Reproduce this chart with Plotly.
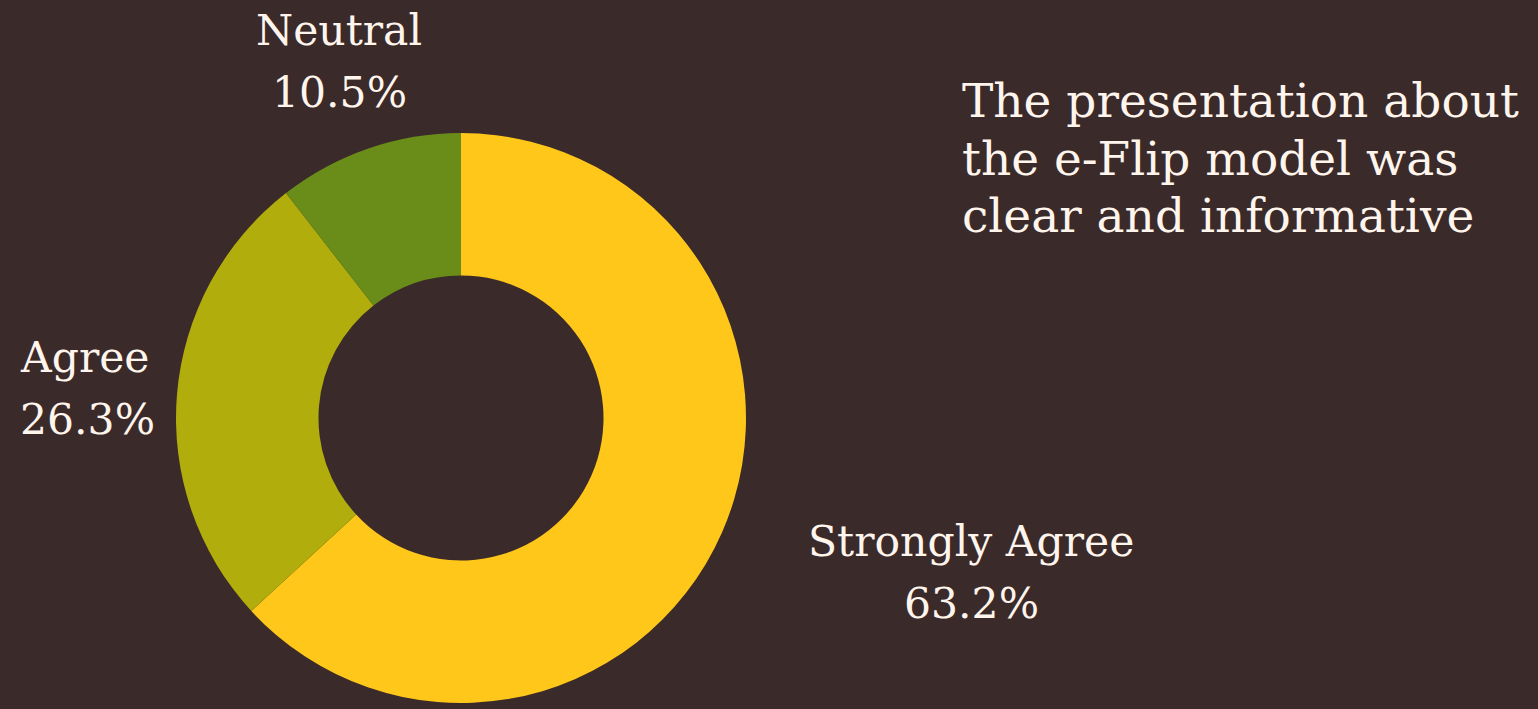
import plotly.graph_objects as go

categories = ["Strongly Agree", "Agree", "Neutral"]
values = [12, 5, 2]
colors = ["#FEC71A", "#B0AD0C", "#6A8D1A"]
title_lines = ["The presentation about", "the e-Flip model was", "clear and informative"]

W, H = 1538, 709
cx, cy, R = 461, 418, 285
BG = "#3A2A2A"
TXT = "#FFF5EC"
FONT = "DejaVu Serif"

fig = go.Figure(go.Pie(
    labels=categories, values=values, hole=0.5, sort=False,
    direction="clockwise", rotation=0,
    marker=dict(colors=colors, line=dict(width=0)),
    textinfo="none", hoverinfo="label+percent", showlegend=False,
    domain=dict(x=[(cx - R) / W, (cx + R) / W],
                y=[(H - cy - R) / H, (H - cy + R) / H]),
))

total = sum(values)
pct = [f"{v / total * 100:.1f}%" for v in values]

# label positions in pixels (x, y of top line center), anchors
label_pos = {
    "Strongly Agree": (971, 541, "center"),
    "Agree": (18, 357, "left"),
    "Neutral": (339, 30, "center"),
}
ann = []
for c, p in zip(categories, pct):
    x, y, anchor = label_pos[c]
    for i, t in enumerate([c, p]):
        ann.append(dict(
            text=t, x=x / W, y=1 - (y + i * 62) / H, xref="paper", yref="paper",
            xanchor=anchor, yanchor="middle", showarrow=False,
            font=dict(family=FONT, size=42.5, color=TXT),
        ))
for i, t in enumerate(title_lines):
    ann.append(dict(
        text=t, x=960 / W, y=1 - (100 + i * 58) / H, xref="paper", yref="paper",
        xanchor="left", yanchor="middle", showarrow=False,
        font=dict(family=FONT, size=47, color=TXT),
    ))

fig.update_layout(
    width=W, height=H, margin=dict(l=0, r=0, t=0, b=0),
    paper_bgcolor=BG, plot_bgcolor=BG, annotations=ann,
)
fig.write_html(
    "out.html",
    config={"displayModeBar": False},
    post_script="document.body.style.margin='0';document.body.style.overflow='hidden';",
)
